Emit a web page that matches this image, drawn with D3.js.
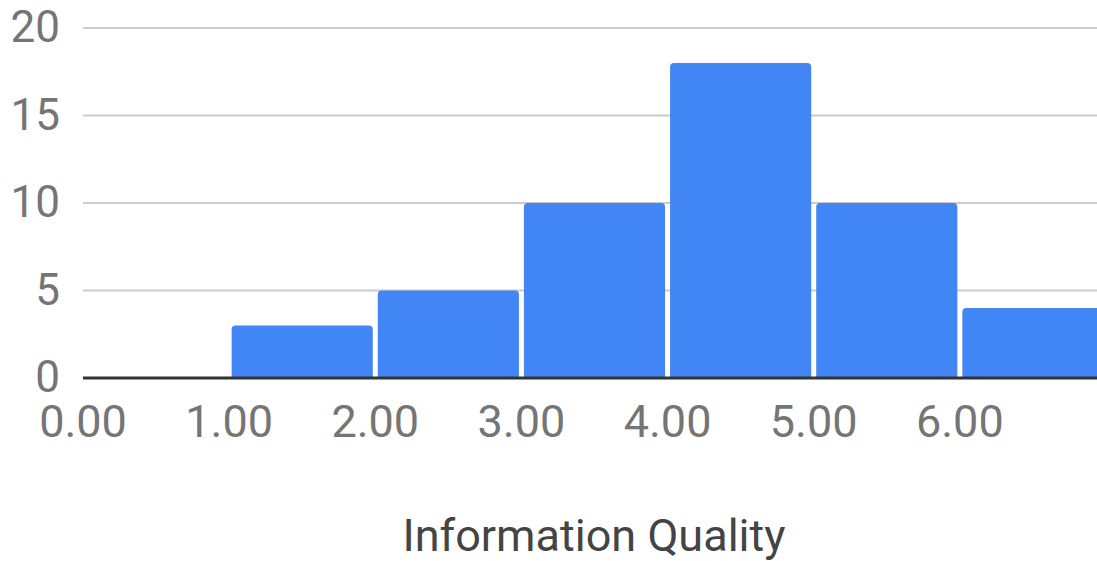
<!DOCTYPE html>
<html>
<head>
<meta charset="utf-8">
<script src="https://cdn.jsdelivr.net/npm/d3@7"></script>
<style>
  html, body { margin: 0; padding: 0; background: #fff; }
  svg { display: block; }
</style>
</head>
<body>
<svg id="chart" width="1097" height="561"></svg>
<script>
// Histogram bins for Information Quality scores
const binStarts = [0, 1, 2, 3, 4, 5, 6];
const binEnds   = [1, 2, 3, 4, 5, 6, 7];
const counts    = [0, 3, 5, 10, 18, 10, 4];
const yTicks    = [0, 5, 10, 15, 20];
const xTicks    = [0, 1, 2, 3, 4, 5, 6];
const xTitle    = "Information Quality";

const W = 1097, H = 561;
const svg = d3.select("#chart");

const x = d3.scaleLinear().domain([0, 7]).range([83, 1106]);
const y = d3.scaleLinear().domain([0, 20]).range([378, 28]);

const font = "Roboto, 'Noto Sans', sans-serif";

// horizontal gridlines
svg.append("g").selectAll("line")
  .data(yTicks.filter(d => d !== 0))
  .join("line")
  .attr("x1", x(0)).attr("x2", W)
  .attr("y1", d => y(d)).attr("y2", d => y(d))
  .attr("stroke", "#cccccc").attr("stroke-width", 2);

// y tick labels
svg.append("g").selectAll("text")
  .data(yTicks)
  .join("text")
  .attr("x", 60)
  .attr("y", d => y(d))
  .attr("dy", "0.32em")
  .attr("text-anchor", "end")
  .attr("font-family", font)
  .attr("font-size", 44)
  .attr("fill", "#757575")
  .text(d => d);

// bars with rounded top corners
const bins = binStarts.map((s, i) => ({ s, e: binEnds[i], c: counts[i] })).filter(d => d.c > 0);
const r = 4;
function barPath(d) {
  const x0 = x(d.s) + 2.5, x1 = Math.min(x(d.e) - 2.5, W + 10);
  const yt = y(d.c), yb = y(0);
  return `M${x0},${yb}V${yt + r}Q${x0},${yt} ${x0 + r},${yt}H${x1 - r}Q${x1},${yt} ${x1},${yt + r}V${yb}Z`;
}
svg.append("g").selectAll("path")
  .data(bins)
  .join("path")
  .attr("d", barPath)
  .attr("fill", "#4285f4");

// baseline
svg.append("line")
  .attr("x1", x(0)).attr("x2", W)
  .attr("y1", y(0)).attr("y2", y(0))
  .attr("stroke", "#333333").attr("stroke-width", 3);

// x tick labels
svg.append("g").selectAll("text")
  .data(xTicks)
  .join("text")
  .attr("x", d => x(d))
  .attr("y", 437)
  .attr("text-anchor", "middle")
  .attr("font-family", font)
  .attr("font-size", 45)
  .attr("fill", "#757575")
  .text(d => d3.format(".2f")(d));

// axis title
svg.append("text")
  .attr("x", 594)
  .attr("y", 551)
  .attr("text-anchor", "middle")
  .attr("font-family", font)
  .attr("font-size", 45)
  .attr("fill", "#444444")
  .text(xTitle);
</script>
</body>
</html>
